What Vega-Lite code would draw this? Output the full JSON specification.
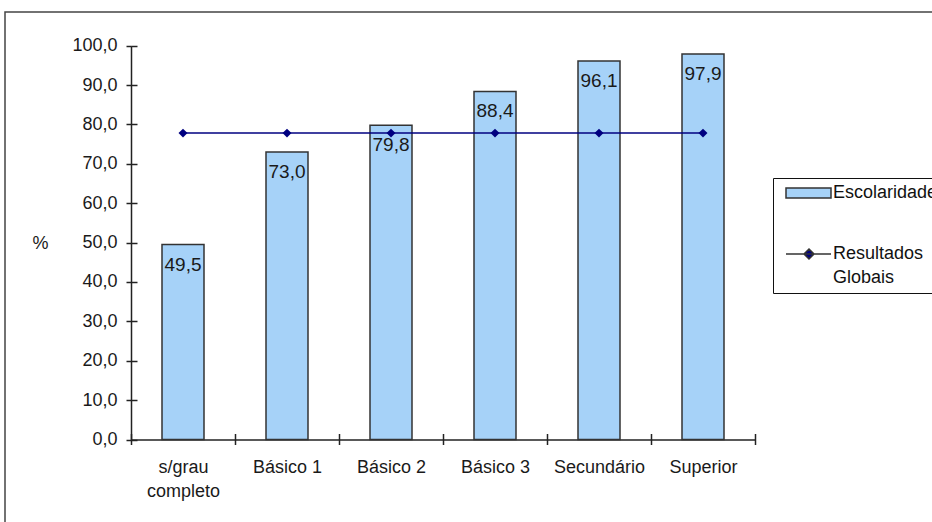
{
  "$schema": "https://vega.github.io/schema/vega-lite/v6.json",
  "width": 940,
  "height": 520,
  "autosize": {"type": "none"},
  "padding": {"left": 5, "top": 12, "right": 0, "bottom": 0},
  "background": "white",
  "config": {
    "locale": {"number": {"decimal": ",", "thousands": ".", "grouping": [3], "currency": ["", " €"]}},
    "view": {"stroke": "#444", "strokeWidth": 1.5},
    "font": "Liberation Sans",
    "style": {"guide-label": {"lineHeight": 24}},
    "axis": {
      "grid": false,
      "domainColor": "#222",
      "tickColor": "#222",
      "domainWidth": 1.5,
      "tickWidth": 1.5,
      "labelFont": "Liberation Sans",
      "labelFontSize": 18,
      "labelColor": "#1a1a1a"
    }
  },
  "data": {
    "values": [
      {"cat": "s/grau completo", "esc": 49.5, "glob": 77.8},
      {"cat": "Básico 1", "esc": 73.0, "glob": 77.8},
      {"cat": "Básico 2", "esc": 79.8, "glob": 77.8},
      {"cat": "Básico 3", "esc": 88.4, "glob": 77.8},
      {"cat": "Secundário", "esc": 96.1, "glob": 77.8},
      {"cat": "Superior", "esc": 97.9, "glob": 77.8}
    ]
  },
  "layer": [
    {
      "mark": {"type": "bar", "size": 42, "stroke": "#333", "strokeWidth": 1.5},
      "encoding": {
        "x": {
          "field": "cat", "type": "nominal", "sort": null,
          "scale": {"range": [126, 750], "paddingInner": 0, "paddingOuter": 0},
          "axis": {
            "orient": "bottom", "offset": -92.5, "tickBand": "extent", "tickSize": 5,
            "labelPadding": 14, "labelAngle": 0, "title": null, "labelLineHeight": 24,
            "labelExpr": "datum.label == 's/grau completo' ? ['s/grau', 'completo'] : datum.label"
          }
        },
        "y": {
          "field": "esc", "type": "quantitative",
          "scale": {"domain": [0, 100], "range": [427.5, 33.7], "nice": false, "zero": true},
          "axis": {
            "orient": "left", "offset": -126, "values": [0, 10, 20, 30, 40, 50, 60, 70, 80, 90, 100],
            "format": ".1f", "tickSize": 5, "labelPadding": 9,
            "title": "%", "titleAngle": 0, "titleX": -91, "titleY": 231,
            "titleFontSize": 18, "titleFontWeight": "normal", "titleColor": "#1a1a1a",
            "titleBaseline": "middle", "titleAlign": "center", "titleFont": "Liberation Sans"
          }
        },
        "color": {
          "datum": "Escolaridade",
          "scale": {"domain": ["Escolaridade", "Resultados Globais"], "range": ["#A6D2F8", "#000080"]},
          "legend": {
            "orient": "none", "legendX": 768, "legendY": 166, "title": null,
            "strokeColor": "#111", "padding": 6, "symbolSize": 100, "labelOffset": 36,
            "labelFontSize": 18, "labelFont": "Liberation Sans", "labelColor": "#111",
            "rowPadding": 43, "labelLimit": 300,
            "symbolType": {"expr": "datum.value === 'Escolaridade' ? 'M-0.4,-1H8.6V1H-0.4Z' : 'M-0.4,0H8.6M4.2,-1L5.2,0L4.2,1L3.2,0Z'"},
            "labelExpr": "datum.label == 'Resultados Globais' ? ['Resultados', 'Globais'] : datum.label",
            "encode": {
              "symbols": {
                "fill": {"value": {"expr": "datum.value === 'Escolaridade' ? '#A6D2F8' : '#000080'"}},
                "stroke": {"value": {"expr": "datum.value === 'Escolaridade' ? '#222' : '#000080'"}},
                "strokeWidth": {"value": {"expr": "datum.value === 'Escolaridade' ? 2 : 1.5"}},
                "opacity": {"value": 1},
                "fillOpacity": {"value": 1}
              }
            }
          }
        }
      }
    },
    {
      "mark": {"type": "text", "baseline": "middle", "dy": 20, "fontSize": 19, "font": "Liberation Sans", "color": "#1a1a1a"},
      "encoding": {
        "x": {"field": "cat", "type": "nominal", "sort": null, "axis": null},
        "y": {"field": "esc", "type": "quantitative", "axis": null},
        "text": {"field": "esc", "type": "quantitative", "format": ".1f"}
      }
    },
    {
      "mark": {"type": "line", "strokeWidth": 1.5, "color": "#000080", "point": {"shape": "diamond", "size": 80, "filled": true, "color": "#000080"}},
      "encoding": {
        "x": {
          "field": "cat", "type": "nominal", "sort": null,
          "axis": {"orient": "bottom", "offset": -92.5, "tickBand": "extent", "tickSize": -6, "labels": false, "domain": false, "title": null}
        },
        "y": {
          "field": "glob", "type": "quantitative",
          "axis": {"orient": "left", "offset": -126, "values": [0, 10, 20, 30, 40, 50, 60, 70, 80, 90, 100], "tickSize": -6, "labels": false, "domain": false, "title": null}
        }
      }
    }
  ],
  "resolve": {"axis": {"x": "independent", "y": "independent"}}
}
